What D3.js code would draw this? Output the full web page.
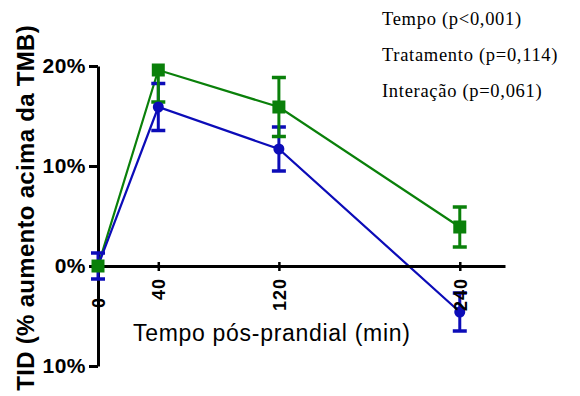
<!DOCTYPE html>
<html>
<head>
<meta charset="utf-8">
<script src="https://cdn.jsdelivr.net/npm/d3@7"></script>
<style>
  html, body { margin: 0; padding: 0; background: #fff; }
  svg { display: block; }
  text { font-family: "Liberation Sans", Arial, sans-serif; }
</style>
</head>
<body>
<script>
// Postprandial time points (min)
const times = [0, 40, 120, 240];
const xTickValues = [0, 40, 120, 240];

// Series 1 (blue, circles): mean and SEM
const blueMean = [0, 15.9, 11.7, -4.6];
const blueErrUp = [1.3, 2.35, 2.2, 1.9];
const blueErrDown = [1.3, 2.35, 2.2, 1.9];

// Series 2 (green, squares): mean and SEM
const greenMean = [0, 19.6, 15.9, 3.9];
const greenErrUp = [0, 0, 2.95, 2.0];
const greenErrDown = [0, 3.2, 2.95, 2.0];

// Y axis ticks and their labels
const yTickValues = [-10, 0, 10, 20];
const yTickLabels = ["10%", "0%", "10%", "20%"];

// Statistics notes
const statLines = ["Tempo (p<0,001)", "Tratamento (p=0,114)", "Interação (p=0,061)"];

const W = 580, H = 396;
const svg = d3.select("body").append("svg").attr("width", W).attr("height", H);

const x = d3.scaleLinear().domain([0, 270]).range([98, 505]);
const y = d3.scaleLinear().domain([-10, 20]).range([366, 66]);

// Y axis
const yAxis = svg.append("g")
  .attr("transform", `translate(${x(0)},0)`)
  .call(d3.axisLeft(y).tickValues(yTickValues)
    .tickFormat((d, i) => yTickLabels[i])
    .tickSizeInner(9).tickSizeOuter(0).tickPadding(3));
yAxis.select(".domain").attr("stroke", "#000").attr("stroke-width", 3);
yAxis.selectAll(".tick line").attr("stroke", "#000").attr("stroke-width", 3);
yAxis.selectAll(".tick text")
  .attr("fill", "#000")
  .style("font-size", "21px").style("font-weight", "bold")
  .style("letter-spacing", "0.5px")
  .style("font-family", "'Liberation Sans', Arial, sans-serif");

// X axis along y = 0
const xAxis = svg.append("g")
  .attr("transform", `translate(0,${y(0)})`)
  .call(d3.axisBottom(x).tickValues(xTickValues)
    .tickFormat(d3.format("d"))
    .tickSizeInner(5).tickSizeOuter(0).tickPadding(0));
xAxis.select(".domain").attr("stroke", "#000").attr("stroke-width", 3);
xAxis.selectAll(".tick line").attr("stroke", "#000").attr("stroke-width", 2.5).attr("y1", -4);
xAxis.selectAll(".tick text")
  .attr("fill", "#000")
  .style("font-size", "18px").style("font-weight", "bold")
  .style("letter-spacing", "1px")
  .style("font-family", "'Liberation Sans', Arial, sans-serif")
  .attr("text-anchor", "end")
  .attr("transform", "rotate(-90)")
  .attr("x", d => d === 0 ? -31 : -12)
  .attr("y", 0)
  .attr("dy", "0.36em");

// Axis titles
svg.append("text")
  .attr("transform", "translate(34,25) rotate(-90)")
  .attr("text-anchor", "end")
  .style("font-size", "24px").style("font-weight", "bold")
  .style("letter-spacing", "0.3px")
  .attr("fill", "#000")
  .text("TID (% aumento acima da TMB)");

svg.append("text")
  .attr("x", 133).attr("y", 341)
  .style("font-size", "23px")
  .style("letter-spacing", "0.7px")
  .attr("fill", "#000")
  .text("Tempo pós-prandial (min)");

// Statistics notes (serif)
svg.selectAll("text.stat")
  .data(statLines)
  .join("text")
  .attr("class", "stat")
  .attr("x", 382)
  .attr("y", (d, i) => 25 + i * 36)
  .style("font-family", "'Liberation Serif', 'Times New Roman', serif")
  .style("font-size", "18.5px")
  .style("letter-spacing", "0.7px")
  .attr("fill", "#000")
  .text(d => d);

function buildSeries(mean, up, down) {
  return times.map((t, i) => ({ t, m: mean[i], up: up[i], down: down[i] }));
}
const blue = buildSeries(blueMean, blueErrUp, blueErrDown);
const green = buildSeries(greenMean, greenErrUp, greenErrDown);
const BLUE = "#0c0cb8", GREEN = "#0a800a";

const line = d3.line().x(d => x(d.t)).y(d => y(d.m));

function drawLine(data, color) {
  svg.append("path").datum(data)
    .attr("d", line).attr("fill", "none")
    .attr("stroke", color).attr("stroke-width", 2.2);
}

function drawErrors(data, color) {
  const g = svg.append("g").attr("stroke", color);
  const capHalf = 7;
  data.forEach(d => {
    if (d.up > 0) {
      g.append("line").attr("x1", x(d.t)).attr("x2", x(d.t))
        .attr("y1", y(d.m)).attr("y2", y(d.m + d.up)).attr("stroke-width", 3);
      g.append("line").attr("x1", x(d.t) - capHalf).attr("x2", x(d.t) + capHalf)
        .attr("y1", y(d.m + d.up)).attr("y2", y(d.m + d.up)).attr("stroke-width", 3.5);
    }
    if (d.down > 0) {
      g.append("line").attr("x1", x(d.t)).attr("x2", x(d.t))
        .attr("y1", y(d.m)).attr("y2", y(d.m - d.down)).attr("stroke-width", 3);
      g.append("line").attr("x1", x(d.t) - capHalf).attr("x2", x(d.t) + capHalf)
        .attr("y1", y(d.m - d.down)).attr("y2", y(d.m - d.down)).attr("stroke-width", 3.5);
    }
  });
}

drawLine(green, GREEN);
drawLine(blue, BLUE);
drawErrors(blue, BLUE);
drawErrors(green, GREEN);

// Markers
svg.append("g").selectAll("circle").data(blue).join("circle")
  .attr("cx", d => x(d.t)).attr("cy", d => y(d.m)).attr("r", 5.5)
  .attr("fill", BLUE);

// Time labels sit above the data marks
xAxis.raise();

const squares = svg.append("g");
squares.selectAll("rect").data(green).join("rect")
  .attr("x", d => x(d.t) - 6.5).attr("y", d => y(d.m) - 6.5)
  .attr("width", 13).attr("height", 13)
  .attr("fill", GREEN);
</script>
</body>
</html>
